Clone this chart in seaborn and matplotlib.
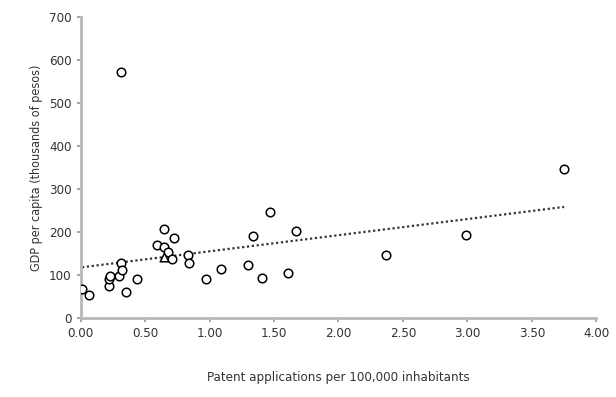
import numpy as np
import pandas as pd
import matplotlib
matplotlib.use("Agg")
import matplotlib.pyplot as plt
import seaborn as sns

# Solicitudes de patente vs PIB per capita
patentes = [0.01, 0.065, 0.22, 0.22, 0.23, 0.30, 0.31, 0.32, 0.35, 0.44,
            0.59, 0.645, 0.645, 0.68, 0.71, 0.725, 0.83, 0.84, 0.97, 1.09,
            1.30, 1.34, 1.41, 1.47, 1.61, 1.67, 2.37, 2.99, 3.75, 0.31]
pib = [67, 53, 75, 90, 98, 98, 129, 112, 61, 91,
       170, 207, 166, 153, 137, 186, 147, 127, 91, 115,
       123, 191, 93, 246, 105, 202, 147, 194, 346, 573]
# punto marcado con triangulo
patente_tri = [0.645]
pib_tri = [143]

x_ticks = [0, 0.5, 1.0, 1.5, 2.0, 2.5, 3.0, 3.5, 4.0]
y_ticks = [0, 100, 200, 300, 400, 500, 600, 700]

df = pd.DataFrame({"patentes": patentes, "pib": pib})
df_tri = pd.DataFrame({"patentes": patente_tri, "pib": pib_tri})

sns.set_theme(style="white")
plt.rcParams['font.family'] = ['DejaVu Sans']
plt.rcParams['font.stretch'] = 'condensed'

fig = plt.figure(figsize=(6.16, 3.97), dpi=100)
ax = fig.add_axes([0.131, 0.199, 0.837, 0.758])

# linea de tendencia
sns.regplot(data=pd.concat([df, df_tri]), x="patentes", y="pib", ax=ax, ci=None,
            scatter=False, truncate=True,
            line_kws=dict(color="#333333", linestyle=(0, (1, 1.2)), linewidth=1.6))

sns.scatterplot(data=df, x="patentes", y="pib", ax=ax, marker="o", s=38,
                facecolor="white", edgecolor="black", linewidth=1.1, zorder=3)
sns.scatterplot(data=df_tri, x="patentes", y="pib", ax=ax, marker="^", s=38,
                facecolor="white", edgecolor="black", linewidth=1.1, zorder=3)

ax.set_xlim(0, 4)
ax.set_ylim(0, 700)
ax.set_xticks(x_ticks)
ax.set_xticklabels([f"{t:.2f}" for t in x_ticks])
ax.set_yticks(y_ticks)
ax.set_xlabel("Patent applications per 100,000 inhabitants", fontsize=9.5,
              color="#333333", labelpad=22)
ax.set_ylabel("GDP per capita (thousands of pesos)", fontsize=9,
              color="#333333", labelpad=4)
ax.tick_params(axis="both", labelsize=9.5, colors="#333333", length=3,
               direction="out", bottom=True, left=True, color="#999999")

for lado in ["top", "right"]:
    ax.spines[lado].set_visible(False)
for lado in ["left", "bottom"]:
    ax.spines[lado].set_color("#b8b8b8")
    ax.spines[lado].set_linewidth(2)

fig.savefig("out.png", dpi=100)
